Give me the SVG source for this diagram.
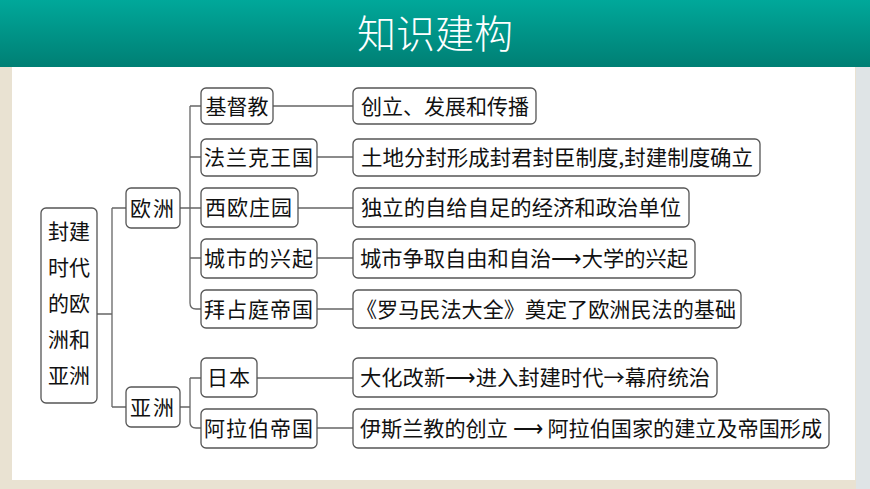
<svg xmlns="http://www.w3.org/2000/svg" width="870" height="489" viewBox="0 0 870 489">
<defs>
<linearGradient id="hd" x1="0" y1="0" x2="0" y2="1"><stop offset="0" stop-color="#00a89a"/><stop offset="1" stop-color="#007f74"/></linearGradient>
<style>
.b{fill:#fff;stroke:#555;stroke-width:1.3}
.t{font-family:"Noto Sans CJK SC","Noto Sans CJK JP",sans-serif;font-size:21px;fill:#111}
.c{fill:none;stroke:#666;stroke-width:1.3}
</style>
</defs>
<rect width="870" height="489" fill="#e9e2d2"/>
<rect x="856" y="67" width="14" height="422" fill="#dfe4e6"/>
<rect x="0" y="0" width="870" height="67" fill="url(#hd)"/>
<text x="435" y="48" text-anchor="middle" font-family="'Noto Sans CJK SC',sans-serif" font-size="39" font-weight="300" fill="#fff">知识建构</text>
<rect x="12" y="67" width="843" height="413" fill="#fff"/>
<g id="connectors" class="c">
<path d="M97 314H112M112 208V407M112 208H126M112 407H126"/>
<path d="M180 208H190M190 106V303Q190 309 196 309H201M190 106H201M190 157H201M190 208H201M190 258H201"/>
<path d="M180 407H190M190 378V422Q190 428 196 428H201M190 378H201"/>
<path d="M273 106H353M317 157H353M298 208H353M317 258H353M317 309H353M257 378H353M317 428H353"/>
</g>
<g id="root"><rect class="b" x="41" y="208" width="56" height="195" rx="5"/>
<text class="t" x="69" text-anchor="middle" font-size="22"><tspan x="69" y="239">封建</tspan><tspan x="69" y="275">时代</tspan><tspan x="69" y="311">的欧</tspan><tspan x="69" y="347">洲和</tspan><tspan x="69" y="383">亚洲</tspan></text></g>
<g id="europe"><rect class="b" x="126" y="188" width="54" height="40" rx="5"/><text class="t" x="153" y="216" text-anchor="middle" letter-spacing="2">欧洲</text></g>
<g id="asia"><rect class="b" x="126" y="387" width="54" height="40" rx="5"/><text class="t" x="153" y="415" text-anchor="middle" letter-spacing="2">亚洲</text></g>
<g id="n1"><rect class="b" x="201" y="88" width="72" height="36" rx="5"/><text class="t" x="237" y="114" text-anchor="middle">基督教</text></g>
<g id="n2"><rect class="b" x="201" y="139" width="116" height="37" rx="5"/><text class="t" x="259" y="165" text-anchor="middle" letter-spacing="1">法兰克王国</text></g>
<g id="n3"><rect class="b" x="201" y="188" width="97" height="39" rx="5"/><text class="t" x="249" y="215" text-anchor="middle" letter-spacing="1">西欧庄园</text></g>
<g id="n4"><rect class="b" x="201" y="239" width="116" height="39" rx="5"/><text class="t" x="259" y="266" text-anchor="middle" letter-spacing="1">城市的兴起</text></g>
<g id="n5"><rect class="b" x="201" y="290" width="116" height="38" rx="5"/><text class="t" x="259" y="317" text-anchor="middle" letter-spacing="1">拜占庭帝国</text></g>
<g id="n6"><rect class="b" x="201" y="358" width="56" height="39" rx="5"/><text class="t" x="229" y="385" text-anchor="middle" letter-spacing="1">日本</text></g>
<g id="n7"><rect class="b" x="201" y="409" width="116" height="39" rx="5"/><text class="t" x="259" y="436" text-anchor="middle" letter-spacing="1">阿拉伯帝国</text></g>
<g id="d1"><rect class="b" x="353" y="88" width="183" height="36" rx="5"/><text class="t" x="361" y="114" textLength="168" lengthAdjust="spacingAndGlyphs">创立、发展和传播</text></g>
<g id="d2"><rect class="b" x="353" y="139" width="407" height="37" rx="5"/><text class="t" x="361" y="165" textLength="392" lengthAdjust="spacingAndGlyphs">土地分封形成封君封臣制度,封建制度确立</text></g>
<g id="d3"><rect class="b" x="353" y="188" width="336" height="39" rx="5"/><text class="t" x="361" y="215" textLength="320" lengthAdjust="spacingAndGlyphs">独立的自给自足的经济和政治单位</text></g>
<g id="d4"><rect class="b" x="353" y="239" width="342" height="39" rx="5"/><text class="t" x="360" y="266" textLength="328" lengthAdjust="spacingAndGlyphs">城市争取自由和自治⟶大学的兴起</text></g>
<g id="d5"><rect class="b" x="353" y="290" width="388" height="38" rx="5"/><text class="t" x="356" y="317" textLength="380" lengthAdjust="spacingAndGlyphs">《罗马民法大全》奠定了欧洲民法的基础</text></g>
<g id="d6"><rect class="b" x="353" y="358" width="364" height="39" rx="5"/><text class="t" x="360" y="385" textLength="350" lengthAdjust="spacingAndGlyphs">大化改新⟶进入封建时代→幕府统治</text></g>
<g id="d7"><rect class="b" x="353" y="409" width="476" height="39" rx="5"/><text class="t" x="360" y="436" textLength="462" lengthAdjust="spacingAndGlyphs">伊斯兰教的创立 ⟶ 阿拉伯国家的建立及帝国形成</text></g>
</svg>
